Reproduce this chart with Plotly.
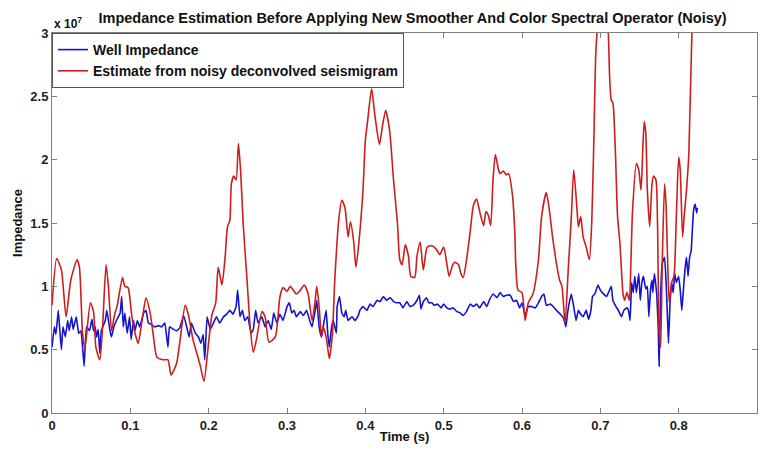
import plotly.graph_objects as go

# Well impedance (units of 1e7)
well_t = [0.000,0.003,0.005,0.008,0.010,0.012,0.014,0.017,0.020,0.022,0.025,0.027,0.031,0.034,0.037,0.039,0.041,0.044,0.048,0.051,
          0.053,0.055,0.057,0.059,0.061,0.063,0.068,0.070,0.074,0.076,0.079,0.083,0.087,0.089,0.091,0.093,0.096,0.099,0.101,0.104,
          0.106,0.109,0.112,0.117,0.120,0.123,0.127,0.131,0.136,0.140,0.144,0.148,0.150,0.155,0.159,0.163,0.168,0.172,0.175,0.178,
          0.183,0.187,0.190,0.193,0.195,0.198,0.202,0.206,0.210,0.214,0.219,0.223,0.227,0.231,0.235,0.237,0.240,0.243,0.246,0.250,
          0.254,0.257,0.260,0.263,0.268,0.272,0.276,0.280,0.283,0.287,0.291,0.295,0.300,0.303,0.306,0.309,0.312,0.317,0.321,0.325,
          0.329,0.332,0.336,0.338,0.341,0.344,0.347,0.350,0.352,0.354,0.357,0.359,0.363,0.364,0.367,0.370,0.373,0.375,0.378,0.383,
          0.387,0.391,0.393,0.397,0.402,0.406,0.410,0.415,0.419,0.423,0.427,0.432,0.436,0.440,0.444,0.448,0.453,0.457,0.461,0.466,
          0.469,0.471,0.474,0.478,0.481,0.485,0.488,0.492,0.497,0.500,0.504,0.508,0.512,0.517,0.521,0.525,0.529,0.534,0.538,0.542,
          0.546,0.551,0.555,0.559,0.563,0.568,0.572,0.576,0.580,0.585,0.589,0.593,0.597,0.600,0.604,0.608,0.612,0.617,0.621,0.625,
          0.628,0.631,0.636,0.640,0.644,0.649,0.653,0.656,0.658,0.660,0.663,0.666,0.669,0.672,0.675,0.678,0.682,0.685,0.688,0.690,
          0.693,0.697,0.700,0.704,0.708,0.711,0.714,0.716,0.720,0.723,0.727,0.730,0.734,0.736,0.738,0.740,0.742,0.744,0.746,0.749,
          0.751,0.753,0.755,0.758,0.760,0.762,0.764,0.766,0.767,0.769,0.772,0.774,0.775,0.777,0.779,0.782,0.784,0.786,0.787,0.789,
          0.791,0.793,0.795,0.797,0.800,0.802,0.804,0.806,0.808,0.810,0.812,0.814,0.816,0.817,0.819,0.821,0.823,0.824]
well_v = [0.52,0.68,0.62,0.81,0.65,0.50,0.68,0.60,0.73,0.65,0.76,0.66,0.76,0.63,0.65,0.52,0.37,0.68,0.65,0.74,
          0.65,0.68,0.60,0.66,0.47,0.65,0.73,0.81,0.65,0.60,0.68,0.74,0.79,0.92,0.68,0.79,0.63,0.76,0.58,0.73,
          0.65,0.73,0.68,0.79,0.81,0.71,0.70,0.68,0.69,0.68,0.71,0.52,0.68,0.66,0.65,0.67,0.77,0.68,0.60,0.71,
          0.63,0.60,0.55,0.62,0.42,0.76,0.66,0.71,0.76,0.71,0.76,0.78,0.81,0.78,0.84,0.97,0.76,0.81,0.73,0.76,
          0.63,0.66,0.81,0.71,0.76,0.68,0.73,0.66,0.79,0.71,0.78,0.73,0.84,0.87,0.79,0.81,0.76,0.80,0.77,0.81,
          0.73,0.68,0.81,0.89,0.68,0.60,0.71,0.81,0.63,0.52,0.68,0.73,0.63,0.84,0.92,0.79,0.76,0.81,0.73,0.76,
          0.73,0.77,0.81,0.84,0.81,0.86,0.84,0.89,0.88,0.92,0.89,0.91,0.88,0.87,0.87,0.83,0.88,0.84,0.85,0.89,
          0.93,0.82,0.88,0.91,0.87,0.87,0.85,0.86,0.83,0.86,0.83,0.82,0.83,0.80,0.79,0.77,0.80,0.86,0.84,0.86,
          0.83,0.88,0.84,0.90,0.94,0.91,0.95,0.92,0.93,0.93,0.88,0.89,0.83,0.87,0.77,0.84,0.84,0.83,0.87,0.92,
          0.94,0.85,0.86,0.84,0.81,0.78,0.75,0.68,0.78,0.86,0.94,0.84,0.73,0.81,0.78,0.76,0.81,0.74,0.81,0.92,
          0.94,1.01,0.97,0.94,0.92,0.96,1.00,0.89,0.84,0.81,0.76,0.81,0.83,0.81,0.73,1.03,0.95,1.08,0.95,1.10,
          0.89,1.03,1.08,0.98,1.00,0.76,0.97,1.05,0.95,1.10,0.94,0.66,0.37,0.94,1.18,1.23,1.03,0.71,0.55,0.87,
          1.03,0.95,1.10,1.03,1.08,0.97,0.81,0.97,1.13,1.23,1.08,1.23,1.28,1.39,1.60,1.65,1.58,1.62]

# Estimate from noisy deconvolved seismogram (units of 1e7)
est_t = [0.000,0.006,0.012,0.018,0.024,0.032,0.035,0.039,0.042,0.049,0.053,0.056,0.061,0.065,0.069,0.072,0.076,0.080,0.083,0.090,
         0.093,0.097,0.102,0.106,0.110,0.115,0.120,0.125,0.129,0.134,0.142,0.148,0.152,0.159,0.163,0.170,0.174,0.180,0.189,0.194,
         0.199,0.204,0.209,0.212,0.214,0.217,0.221,0.224,0.227,0.229,0.232,0.235,0.238,0.241,0.244,0.249,0.253,0.257,0.261,0.268,
         0.272,0.277,0.285,0.291,0.295,0.300,0.304,0.308,0.312,0.317,0.322,0.327,0.332,0.336,0.338,0.341,0.344,0.346,0.350,0.354,
         0.358,0.361,0.366,0.370,0.374,0.378,0.381,0.385,0.388,0.392,0.397,0.400,0.403,0.408,0.412,0.418,0.422,0.426,0.431,0.436,
         0.441,0.444,0.447,0.451,0.455,0.458,0.463,0.466,0.470,0.474,0.479,0.485,0.491,0.495,0.500,0.504,0.507,0.511,0.514,0.519,
         0.522,0.525,0.529,0.534,0.538,0.542,0.546,0.551,0.554,0.557,0.560,0.563,0.566,0.570,0.572,0.576,0.580,0.583,0.588,0.591,
         0.592,0.595,0.600,0.604,0.608,0.614,0.621,0.625,0.631,0.635,0.639,0.644,0.648,0.651,0.655,0.659,0.663,0.666,0.670,0.672,
         0.675,0.678,0.682,0.686,0.689,0.692,0.694,0.696,0.703,0.710,0.712,0.714,0.716,0.719,0.722,0.725,0.729,0.731,0.734,0.737,
         0.739,0.741,0.746,0.749,0.752,0.754,0.756,0.758,0.760,0.763,0.766,0.768,0.771,0.773,0.775,0.777,0.779,0.782,0.784,0.786,
         0.788,0.791,0.794,0.797,0.800,0.802,0.805,0.807,0.810,0.813,0.817,0.823]
est_v = [0.85,1.22,1.13,0.76,1.05,1.21,1.15,0.63,0.51,0.87,0.80,0.52,0.42,0.73,1.17,1.00,0.65,0.78,0.84,1.07,
         1.00,0.99,0.76,0.63,0.55,0.73,0.91,0.80,0.63,0.44,0.42,0.42,0.30,0.39,0.55,0.85,0.78,0.58,0.38,0.25,
         0.50,0.77,0.87,1.15,1.10,1.01,1.23,1.47,1.52,1.81,1.87,1.84,2.13,1.89,1.50,1.05,0.68,0.48,0.58,0.80,
         0.76,0.56,0.60,0.92,0.99,0.96,1.00,0.97,0.94,0.97,1.01,0.94,0.73,0.89,1.00,0.84,0.60,0.68,0.60,0.43,
         0.63,1.05,1.52,1.68,1.62,1.39,1.51,1.36,1.15,1.36,1.76,2.15,2.31,2.56,2.36,2.12,2.27,2.39,2.23,1.84,
         1.50,1.21,1.17,1.33,1.24,1.08,1.07,1.24,1.35,1.13,1.31,1.32,1.29,1.25,1.31,1.18,1.08,1.16,1.19,1.17,
         1.10,1.07,1.20,1.44,1.64,1.69,1.59,1.48,1.59,1.56,1.48,1.84,2.04,1.92,1.89,1.91,1.88,1.89,1.71,1.40,
         1.18,0.97,0.95,0.73,0.87,0.94,1.21,1.55,1.74,1.60,1.39,1.18,1.05,1.00,0.71,1.13,1.55,1.92,1.63,1.47,
         1.55,1.39,1.31,1.21,1.50,2.23,2.81,3.02,3.50,3.02,2.63,2.47,2.45,2.10,1.55,1.34,0.94,0.89,0.95,0.89,
         1.18,1.58,1.97,1.92,1.76,2.05,2.30,2.21,1.76,1.47,1.81,1.87,1.84,1.50,0.66,0.52,1.18,1.81,1.63,1.18,
         0.87,1.03,1.08,1.55,2.02,1.92,1.39,1.55,1.76,2.05,3.02,3.80]

x_ticks = [0, 0.1, 0.2, 0.3, 0.4, 0.5, 0.6, 0.7, 0.8, 0.9]
y_ticks = [0, 0.5, 1, 1.5, 2, 2.5, 3]

FONT = "Liberation Sans, Arial, sans-serif"

fig = go.Figure()
fig.add_trace(go.Scatter(x=well_t, y=well_v, mode="lines", name="Well Impedance",
                         line=dict(color="rgb(20,20,205)", width=1.6, shape="spline", smoothing=0.3)))
fig.add_trace(go.Scatter(x=est_t, y=est_v, mode="lines", name="Estimate from noisy deconvolved seismigram",
                         line=dict(color="rgb(205,30,30)", width=1.6, shape="spline", smoothing=0.6)))

axis_common = dict(showgrid=False, zeroline=False, showline=True, linecolor="#7f7f7f", linewidth=1,
                   mirror="ticks", ticks="inside", ticklen=5, tickcolor="#7f7f7f", automargin=False,
                   tickfont=dict(family=FONT, size=13, color="#222", weight="bold"))

fig.update_layout(
    width=764, height=450, autosize=False,
    margin=dict(l=52, r=7, t=33, b=37),
    paper_bgcolor="white", plot_bgcolor="white",
    title=dict(text="Impedance Estimation Before Applying New Smoother And Color Spectral Operator (Noisy)",
               x=0.54, xanchor="center", y=0.96, yanchor="middle",
               font=dict(family=FONT, size=14.5, color="#111", weight="bold")),
    xaxis=dict(range=[0, 0.9], tickvals=x_ticks, ticktext=[f"{v:g}" for v in x_ticks],
               title=dict(text="Time (s)", standoff=0, font=dict(family=FONT, size=13, color="#111", weight="bold")),
               **axis_common),
    yaxis=dict(range=[0, 3], tickvals=y_ticks, ticktext=[f"{v:g}" for v in y_ticks],
               title=dict(text="Impedance", standoff=4, font=dict(family=FONT, size=13, color="#111", weight="bold")),
               **axis_common),
    legend=dict(x=0.0, y=1.0, xanchor="left", yanchor="top", bgcolor="white",
                bordercolor="#555", borderwidth=1, itemwidth=30, tracegroupgap=0,
                font=dict(family=FONT, size=14, color="#111", weight="bold")),
    showlegend=True,
)
fig.add_annotation(text="x 10<sup>7</sup>", xref="paper", yref="paper", x=0.0, y=1.0,
                   xanchor="left", yanchor="bottom", showarrow=False, yshift=0,
                   font=dict(family=FONT, size=12, color="#111", weight="bold"))

fig.write_html("out.html", config={"displayModeBar": False},
               post_script="document.body.style.margin='0';document.body.style.overflow='hidden';")
